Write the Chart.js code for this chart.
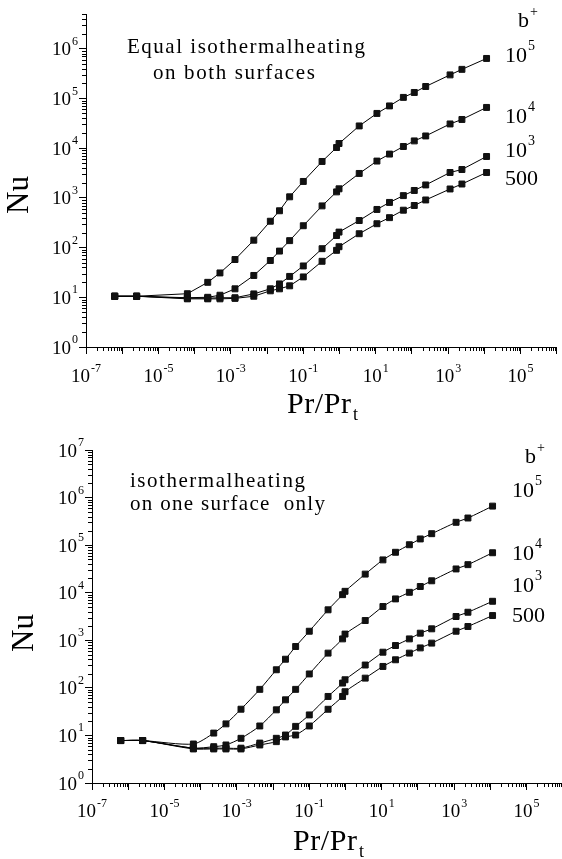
<!DOCTYPE html>
<html>
<head>
<meta charset="utf-8">
<script src="https://cdn.jsdelivr.net/npm/chart.js@4/dist/chart.umd.min.js"></script>
<style>
  html, body { margin: 0; padding: 0; background: #fff; overflow: hidden; width: 562px; height: 859px; }
  canvas { position: absolute; left: 0; }
  #chartBoth { top: 0; }
  #chartOne { top: 430px; }
</style>
</head>
<body>
<canvas id="chartBoth" width="562" height="430"></canvas>
<canvas id="chartOne" width="568" height="429"></canvas>
<script>
// Pr/Pr_t, same for every curve
const prRatio = [6.2e-7, 2.5e-6, 6.3e-5, 2.3e-4, 5e-4, 1.3e-3, 4.3e-3, 0.0123, 0.022, 0.042, 0.1, 0.33, 0.83, 0.97, 3.5, 10.8, 24, 58, 116, 240, 1130, 2400, 11500];

// b+ values of the curves (top to bottom)
const bPlus = ['10^5', '10^4', '10^3', '500'];

// Nu, equal isothermal heating on both surfaces
const nuBoth1e5 = [10.5, 10.5, 11.8, 20, 30.9, 57.5, 141, 339, 550, 1050, 2140, 5400, 10300, 12400, 28000, 50000, 70800, 105000, 132000, 174000, 298000, 385000, 638000];
const nuBoth1e4 = [10.5, 10.5, 9.8, 10, 11, 14.8, 27.5, 55, 85, 138, 275, 690, 1320, 1520, 3100, 5500, 7600, 10800, 14000, 17600, 30700, 37800, 66000];
const nuBoth1e3 = [10.5, 10.5, 9.6, 9.6, 9.8, 9.8, 11.7, 14.8, 18.6, 26.3, 42.7, 95, 175, 205, 350, 585, 810, 1110, 1410, 1820, 3240, 3720, 6800];
const nuBoth500 = [10.5, 10.5, 9.3, 9.3, 9.3, 9.5, 10.5, 13.5, 14.8, 17, 25.7, 53, 88, 104, 190, 302, 400, 565, 703, 908, 1510, 1900, 3240];

// Nu, isothermal heating on one surface only
const nuOne1e5 = [7.8, 7.8, 6.6, 11.2, 17.5, 35.6, 93, 240, 400, 740, 1550, 4370, 9100, 10700, 24600, 49000, 70800, 102000, 135000, 174000, 302000, 372000, 661000];
const nuOne1e4 = [7.8, 7.8, 5.4, 5.8, 6.3, 8.7, 15.8, 34.5, 56, 93, 196, 537, 1070, 1350, 2600, 5130, 7410, 10200, 13500, 17800, 31600, 38900, 69200];
const nuOne1e3 = [7.8, 7.8, 5.4, 5.4, 5.4, 5.4, 6.9, 8.7, 10.2, 15.5, 27, 66, 126, 148, 302, 562, 776, 1070, 1410, 1740, 3160, 3890, 6610];
const nuOne500 = [7.8, 7.8, 5.2, 5.2, 5.2, 5.2, 6.3, 7.4, 9.3, 10.2, 15.8, 35.5, 66, 83, 160, 282, 389, 537, 692, 871, 1550, 1950, 3310];

// tick label powers of ten
const xLabelPowers = [-7, -5, -3, -1, 1, 3, 5];
const yLabelPowersBoth = [0, 1, 2, 3, 4, 5, 6];
const yLabelPowersOne = [0, 1, 2, 3, 4, 5, 6, 7];

const serif = '"Liberation Serif", "Times New Roman", serif';

function pontos(nu) {
    return prRatio.map((x, i) => ({ x: x, y: nu[i] }));
}

function serie(nu, tension) {
    return {
        data: pontos(nu),
        showLine: true,
        borderColor: '#000',
        borderWidth: 1,
        backgroundColor: '#111',
        pointStyle: 'rect',
        pointRadius: 4.2,
        pointBorderWidth: 1,
        pointBorderColor: '#111',
        tension: tension
    };
}

// log ticks 1..9 x 10^n, major at 10^n
function logTicks(scale, minP, maxV) {
    const ticks = [];
    for (let p = minP; ; p++) {
        for (let m = 1; m <= 9; m++) {
            const v = m * Math.pow(10, p);
            if (v > maxV * 1.0001) { scale.ticks = ticks; return; }
            ticks.push({ value: v, major: m === 1 });
        }
    }
}

// "10" with superscript exponent
function drawPow(ctx, x, base, exp, size, align) {
    const supText = exp < 0 ? '-' + Math.abs(exp) : String(exp);
    const supSize = Math.round(size * 0.65);
    ctx.font = size + 'px ' + serif;
    const wb = ctx.measureText('10').width;
    ctx.font = supSize + 'px ' + serif;
    const ws = ctx.measureText(supText).width;
    let x0 = x;
    if (align === 'right') x0 = x - wb - ws - 1;
    else if (align === 'center') x0 = x - (wb + ws + 1) / 2;
    ctx.textAlign = 'left';
    ctx.textBaseline = 'alphabetic';
    ctx.font = size + 'px ' + serif;
    ctx.fillText('10', x0, base);
    ctx.font = supSize + 'px ' + serif;
    ctx.fillText(supText, x0 + wb + 1, base - size * 0.55);
}

// text stretched to a given width
function drawWide(ctx, text, x, base, width, size) {
    ctx.font = size + 'px ' + serif;
    ctx.letterSpacing = '0px';
    const w = ctx.measureText(text).width;
    const sp = (width - w) / (text.length - 1);
    ctx.letterSpacing = sp.toFixed(2) + 'px';
    ctx.textAlign = 'left';
    ctx.fillText(text, x, base);
    ctx.letterSpacing = '0px';
}

function bLabel(ctx, txt, x, base) {
    if (txt.indexOf('^') > 0) {
        drawPow(ctx, x, base, parseInt(txt.split('^')[1]), 22, 'left');
    } else {
        ctx.font = '22px ' + serif;
        ctx.textAlign = 'left';
        ctx.fillText(txt, x, base);
    }
}

function decor(cfg) {
    return {
        id: 'decor',
        afterDraw(chart) {
            const ctx = chart.ctx;
            const xs = chart.scales.x;
            const ys = chart.scales.y;
            const area = chart.chartArea;
            ctx.save();
            ctx.fillStyle = '#000';
            ctx.strokeStyle = '#000';
            ctx.lineWidth = 1;

            // minor ticks
            ctx.beginPath();
            xs.ticks.forEach(t => {
                if (t.major) return;
                const px = Math.round(xs.getPixelForValue(t.value)) + 0.5;
                ctx.moveTo(px, area.bottom);
                ctx.lineTo(px, area.bottom + 4);
            });
            ys.ticks.forEach(t => {
                if (t.major) return;
                const py = Math.round(ys.getPixelForValue(t.value)) + 0.5;
                ctx.moveTo(area.left, py);
                ctx.lineTo(area.left - 4, py);
            });
            ctx.stroke();

            // tick labels
            xLabelPowers.forEach(p => drawPow(ctx, xs.getPixelForValue(Math.pow(10, p)), cfg.xLabelBase, p, 19, 'center'));
            cfg.yPowers.forEach(p => drawPow(ctx, area.left - 8, ys.getPixelForValue(Math.pow(10, p)) + 6.5, p, 19, 'right'));

            // axis titles
            ctx.save();
            ctx.translate(cfg.nuX, cfg.nuY);
            ctx.rotate(-Math.PI / 2);
            ctx.font = '31px ' + serif;
            ctx.textAlign = 'center';
            ctx.textBaseline = 'middle';
            ctx.fillText('Nu', 0, 0);
            ctx.restore();

            drawWide(ctx, 'Pr/Pr', cfg.prX, cfg.prBase, 64, 30);
            ctx.font = '18px ' + serif;
            ctx.textAlign = 'left';
            ctx.fillText('t', cfg.prX + 66, cfg.prBase + 7);

            // annotation
            cfg.notes.forEach(n => drawWide(ctx, n.text, n.x, n.base, n.w, 21));

            // b+ labels
            ctx.font = '22px ' + serif;
            ctx.textAlign = 'left';
            ctx.fillText('b', cfg.bX, cfg.bBase);
            ctx.font = '14px ' + serif;
            ctx.fillText('+', cfg.bX + 12, cfg.bBase - 11);
            bPlus.forEach((t, i) => bLabel(ctx, t, cfg.labX, cfg.labBase[i]));
            ctx.restore();
        }
    };
}

function criarGrafico(id, series, tension, box, cfg) {
    return new Chart(document.getElementById(id), {
        type: 'scatter',
        data: { datasets: series.map(s => serie(s, tension)) },
        options: {
            responsive: false,
            animation: false,
            events: [],
            layout: { padding: { top: box.top, left: 0, right: 0, bottom: 0 } },
            plugins: { legend: { display: false }, tooltip: { enabled: false } },
            scales: {
                x: {
                    type: 'logarithmic',
                    min: 1e-7,
                    max: 1e6,
                    afterBuildTicks: s => logTicks(s, -7, 1e6),
                    afterFit: s => { s.height = box.xHeight; },
                    ticks: { display: false, autoSkip: false },
                    border: { display: true, color: '#000', width: 1 },
                    grid: {
                        display: true,
                        drawOnChartArea: false,
                        drawTicks: true,
                        tickLength: 7,
                        tickWidth: 1,
                        tickColor: c => (c.tick && c.tick.major) ? '#000' : 'rgba(0,0,0,0)'
                    }
                },
                y: {
                    type: 'logarithmic',
                    min: 1,
                    max: box.yMax,
                    afterBuildTicks: s => logTicks(s, 0, box.yMax),
                    afterFit: s => { s.width = box.yWidth; },
                    ticks: { display: false, autoSkip: false },
                    border: { display: true, color: '#000', width: 1 },
                    grid: {
                        display: true,
                        drawOnChartArea: false,
                        drawTicks: true,
                        tickLength: 7,
                        tickWidth: 1,
                        tickColor: c => (c.tick && c.tick.major) ? '#000' : 'rgba(0,0,0,0)'
                    }
                }
            }
        },
        plugins: [decor(cfg)]
    });
}

// Equal isothermal heating on both surfaces
const graficoAmbas = criarGrafico('chartBoth',
    [nuBoth1e5, nuBoth1e4, nuBoth1e3, nuBoth500], 0,
    { top: 14, xHeight: 83, yWidth: 86, yMax: 5e6 },
    {
        yPowers: yLabelPowersBoth,
        xLabelBase: 382,
        nuX: 20, nuY: 195,
        prX: 287, prBase: 413,
        notes: [
            { text: 'Equal isothermalheating', x: 127, base: 53, w: 238 },
            { text: 'on both surfaces', x: 153, base: 79, w: 162 }
        ],
        bX: 518, bBase: 27,
        labX: 505, labBase: [62, 123, 157, 185]
    });

// Isothermal heating on one surface only
const graficoUma = criarGrafico('chartOne',
    [nuOne1e5, nuOne1e4, nuOne1e3, nuOne500], 0.25,
    { top: 20, xHeight: 76, yWidth: 92, yMax: 1e7 },
    {
        yPowers: yLabelPowersOne,
        xLabelBase: 387,
        nuX: 25, nuY: 203,
        prX: 293, prBase: 420,
        notes: [
            { text: 'isothermalheating', x: 130, base: 57, w: 175 },
            { text: 'on one surface  only', x: 130, base: 80, w: 195 }
        ],
        bX: 525, bBase: 33,
        labX: 512, labBase: [67, 130, 162, 192]
    });
</script>
</body>
</html>
